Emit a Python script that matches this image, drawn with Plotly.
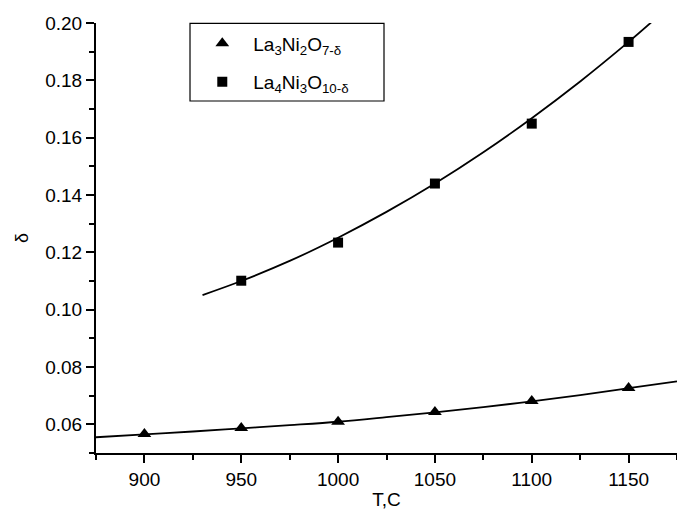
import plotly.graph_objects as go

# Measured points
T_pts = [900, 950, 1000, 1050, 1100, 1150]
d_327 = [0.0566, 0.0587, 0.0609, 0.0643, 0.0681, 0.0727]
d_4310 = [0.1101, 0.1234, 0.1440, 0.1649, 0.1934]
T_4310 = [950, 1000, 1050, 1100, 1150]

# Fitted curves
T_fit_327 = [875, 900, 925, 950, 975, 1000, 1025, 1050, 1075, 1100, 1125, 1150, 1175]
d_fit_327 = [0.0555, 0.0565, 0.0575, 0.0586, 0.0597, 0.0609, 0.0625, 0.0642, 0.0660, 0.0680, 0.0702, 0.0726, 0.0750]
T_fit_4310 = [930, 950, 975, 1000, 1025, 1050, 1075, 1100, 1125, 1150, 1162]
d_fit_4310 = [0.1051, 0.1100, 0.1170, 0.1251, 0.1341, 0.1440, 0.1549, 0.1668, 0.1796, 0.1934, 0.2004]

x_ticks = [900, 950, 1000, 1050, 1100, 1150]
y_ticks = [0.06, 0.08, 0.10, 0.12, 0.14, 0.16, 0.18, 0.20]

FONT = "Liberation Sans, Arial"

fig = go.Figure()
fig.add_trace(go.Scatter(x=T_fit_327, y=d_fit_327, mode="lines", line=dict(color="black", width=1.8, shape="spline"),
                         showlegend=False, hoverinfo="skip"))
fig.add_trace(go.Scatter(x=T_fit_4310, y=d_fit_4310, mode="lines", line=dict(color="black", width=1.8, shape="spline"),
                         showlegend=False, hoverinfo="skip"))
fig.add_trace(go.Scatter(x=T_pts, y=d_327, mode="markers", legendgroup="a",
                         marker=dict(symbol="triangle-up", size=12, color="black"),
                         name="La<sub>3</sub>Ni<sub>2</sub>O<sub>7-δ</sub>"))
fig.add_trace(go.Scatter(x=T_4310, y=d_4310, mode="markers", legendgroup="b",
                         marker=dict(symbol="square", size=10, color="black"),
                         name="La<sub>4</sub>Ni<sub>3</sub>O<sub>10-δ</sub>"))

axis_common = dict(showgrid=False, zeroline=False, showline=True, linecolor="black", linewidth=2,
                   ticks="outside", ticklen=8, tickwidth=1.5, tickcolor="black", automargin=False,
                   tickfont=dict(family=FONT, size=19, color="black"))

fig.update_xaxes(range=[875, 1175], tickvals=x_ticks,
                 minor=dict(dtick=25, tick0=875, ticks="outside", ticklen=5, tickwidth=1.5, tickcolor="black"),
                 title=dict(text="T,C", font=dict(family=FONT, size=19, color="black"), standoff=4),
                 **axis_common)
fig.update_yaxes(range=[0.05, 0.20], tickvals=y_ticks, tickformat=".2f",
                 minor=dict(dtick=0.01, tick0=0.05, ticks="outside", ticklen=5, tickwidth=1.5, tickcolor="black"),
                 title=dict(text="δ", font=dict(family=FONT, size=18, color="black"), standoff=12),
                 **axis_common)

# legend frame (decoration)
fig.add_shape(type="rect", xref="paper", yref="paper", x0=0.1618, x1=0.4957, y0=0.8186, y1=0.999,
              line=dict(color="black", width=1.2), fillcolor="white", layer="below")

fig.update_layout(
    width=677, height=514,
    margin=dict(l=96, r=0, t=23, b=61),
    plot_bgcolor="white", paper_bgcolor="white",
    legend=dict(x=0.164, y=0.997, xanchor="left", yanchor="top",
                borderwidth=0, bgcolor="rgba(0,0,0,0)",
                font=dict(family=FONT, size=19, color="black"),
                tracegroupgap=11, itemwidth=52),
)

fig.write_html("out.html", config={"displayModeBar": False},
               post_script="document.body.style.margin='0';document.body.style.overflow='hidden';")
